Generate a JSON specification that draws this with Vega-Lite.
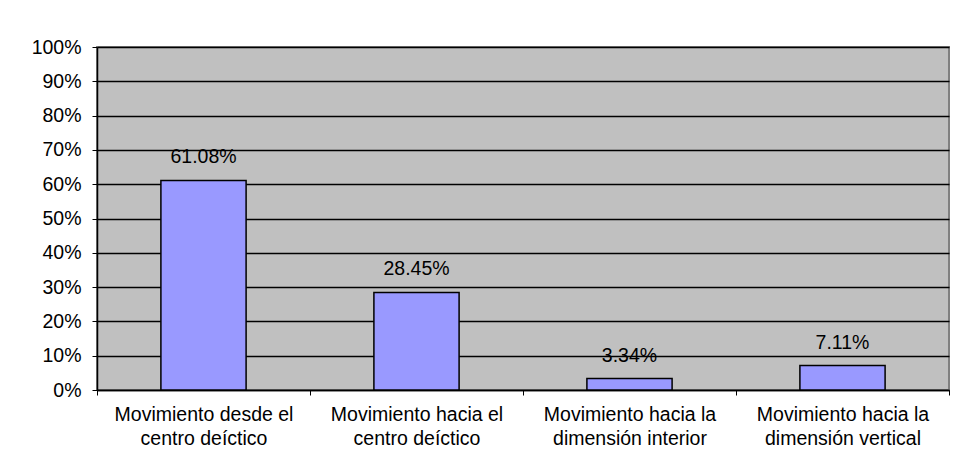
{
  "$schema": "https://vega.github.io/schema/vega-lite/v6.json",
  "width": 852,
  "height": 343,
  "autosize": "none",
  "padding": {"left": 97, "top": 47, "right": 5, "bottom": 84},
  "background": "white",
  "config": {
    "font": "Liberation Sans",
    "view": {"fill": "#C0C0C0", "stroke": "#808080", "strokeWidth": 2}
  },
  "data": {
    "values": [
      {"categoria": "Movimiento desde el|centro deíctico", "valor": 0.6108},
      {"categoria": "Movimiento hacia el|centro deíctico", "valor": 0.2845},
      {"categoria": "Movimiento hacia la|dimensión interior", "valor": 0.0334},
      {"categoria": "Movimiento hacia la|dimensión vertical", "valor": 0.0711}
    ]
  },
  "encoding": {
    "x": {
      "field": "categoria",
      "type": "nominal",
      "sort": null,
      "scale": {"paddingInner": 0, "paddingOuter": 0},
      "axis": {
        "title": null,
        "labelAngle": 0,
        "labelExpr": "split(datum.label, '|')",
        "labelFont": "Liberation Sans",
        "labelFontSize": 19.5,
        "labelColor": "black",
        "labelLineHeight": 24,
        "labelPadding": 10,
        "labelBaseline": "top",
        "tickBand": "extent",
        "tickColor": "black",
        "tickSize": 5,
        "domainColor": "black",
        "domainWidth": 1.5,
        "grid": false
      }
    },
    "y": {
      "field": "valor",
      "type": "quantitative",
      "scale": {"domain": [0, 1], "nice": false},
      "axis": {
        "title": null,
        "format": ".0%",
        "values": [0, 0.1, 0.2, 0.3, 0.4, 0.5, 0.6, 0.7, 0.8, 0.9, 1],
        "labelFont": "Liberation Sans",
        "labelFontSize": 19.5,
        "labelColor": "black",
        "labelPadding": 11,
        "tickColor": "black",
        "tickSize": 5,
        "domainColor": "black",
        "domainWidth": 1.5,
        "grid": true,
        "gridColor": "black",
        "gridWidth": 1.3,
        "gridOpacity": 1
      }
    }
  },
  "layer": [
    {
      "mark": {"type": "bar", "width": {"band": 0.4}, "fill": "#9999FF", "stroke": "black", "strokeWidth": 1.5}
    },
    {
      "mark": {"type": "text", "baseline": "alphabetic", "dy": -17, "fontSize": 19.5, "font": "Liberation Sans", "color": "black"},
      "encoding": {"text": {"field": "valor", "type": "quantitative", "format": ".2%"}}
    }
  ]
}
